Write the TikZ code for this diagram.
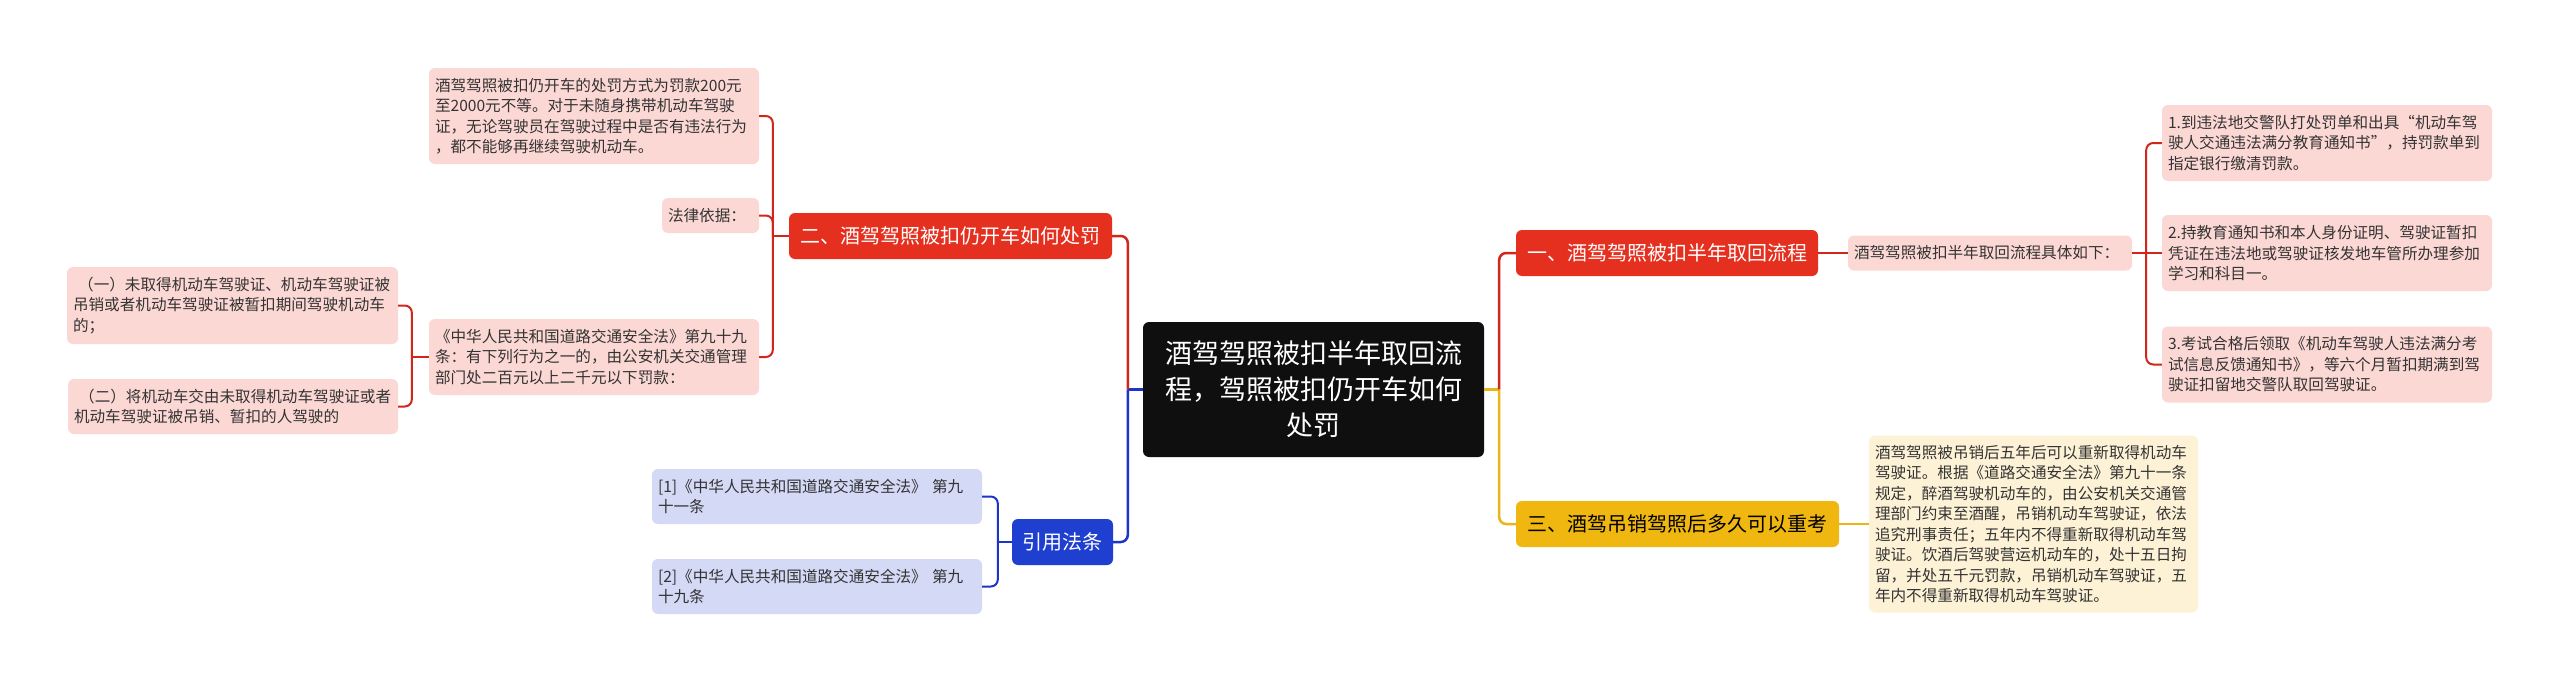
\documentclass[tikz,border=0pt]{standalone}
\usepackage{fontspec}
\setmainfont{Noto Sans CJK SC}
\usetikzlibrary{calc}
\definecolor{mred}{HTML}{E6301F}
\definecolor{pinkc}{HTML}{FCD8D5}
\definecolor{mblue}{HTML}{1F3FD0}
\definecolor{lav}{HTML}{D4D9F6}
\definecolor{myel}{HTML}{EFB70F}
\definecolor{cream}{HTML}{FDF2D5}
\definecolor{lred}{HTML}{D3261B}
\definecolor{lblue}{HTML}{1B35C8}
\definecolor{lyel}{HTML}{EAB519}
\definecolor{txt}{HTML}{333333}
\definecolor{cblack}{HTML}{0F0F0F}
\begin{document}
\begin{tikzpicture}[x=1pt,y=-1pt,
  box/.style={rounded corners=6pt, inner sep=0pt, align=left, text=txt,
    font=\fontsize{15.6}{20.5}\selectfont},
  pinkbox/.style={box, fill=pinkc},
  lavbox/.style={box, fill=lav},
  creambox/.style={box, fill=cream},
  mainbox/.style={rounded corners=6pt, inner sep=0pt, align=center, text=white,
    font=\fontsize{20}{24}\selectfont, minimum height=46pt},
  rl/.style={draw=lred, line width=2.5pt, rounded corners=7pt},
  bl/.style={draw=lblue, line width=2.5pt, rounded corners=7pt},
  yl/.style={draw=lyel, line width=2.5pt, rounded corners=7pt},
  rs/.style={draw=lred, line width=2pt, rounded corners=7pt},
  bs/.style={draw=lblue, line width=2pt, rounded corners=7pt},
  ys/.style={draw=lyel, line width=2pt, rounded corners=7pt}]
\fill[white] (0,0) rectangle (2560,683);
\useasboundingbox (0,0) rectangle (2560,683);

% center
\node[fill=cblack, rounded corners=6pt, inner sep=0pt, text=white, align=center,
  minimum width=341pt, minimum height=135pt, text width=320pt,
  font=\fontsize{27}{36}\selectfont] (c) at (1313.5,389.5)
  {酒驾驾照被扣半年取回流\\程，驾照被扣仍开车如何\\处罚};

% main branches
\node[mainbox, fill=mred, minimum width=323pt] (er) at (950.5,236) {二、酒驾驾照被扣仍开车如何处罚};
\node[mainbox, fill=mblue, minimum width=101pt] (eb) at (1062.5,542) {引用法条};
\node[mainbox, fill=mred, minimum width=302pt] (yi) at (1667,253) {一、酒驾驾照被扣半年取回流程};
\node[mainbox, fill=myel, minimum width=323pt, text=black] (san) at (1677.5,524) {三、酒驾吊销驾照后多久可以重考};

% left-upper children
\node[pinkbox, minimum width=330pt, minimum height=96pt, text width=318pt] (A1) at (594,116)
  {酒驾驾照被扣仍开车的处罚方式为罚款200元\\至2000元不等。对于未随身携带机动车驾驶\\证，无论驾驶员在驾驶过程中是否有违法行为\\，都不能够再继续驾驶机动车。};
\node[pinkbox, minimum width=97pt, minimum height=35pt, text width=85pt] (A2) at (710.5,215.5)
  {法律依据：};
\node[pinkbox, minimum width=330pt, minimum height=76pt, text width=318pt] (A3) at (594,357)
  {《中华人民共和国道路交通安全法》第九十九\\条：有下列行为之一的，由公安机关交通管理\\部门处二百元以上二千元以下罚款：};
\node[pinkbox, minimum width=331pt, minimum height=77pt, text width=319pt] (A3a) at (232.5,305.5)
  {\ （一）未取得机动车驾驶证、机动车驾驶证被\\吊销或者机动车驾驶证被暂扣期间驾驶机动车\\的；};
\node[pinkbox, minimum width=330pt, minimum height=55pt, text width=318pt] (A3b) at (233,406.5)
  {\ （二）将机动车交由未取得机动车驾驶证或者\\机动车驾驶证被吊销、暂扣的人驾驶的};

% blue children
\node[lavbox, minimum width=330pt, minimum height=55pt, text width=318pt] (B1) at (817,496.5)
  {[1]《中华人民共和国道路交通安全法》 第九\\十一条};
\node[lavbox, minimum width=330pt, minimum height=55pt, text width=318pt] (B2) at (817,586.5)
  {[2]《中华人民共和国道路交通安全法》 第九\\十九条};

% right children
\node[pinkbox, minimum width=284pt, minimum height=35pt, text width=272pt] (R0) at (1990,253)
  {酒驾驾照被扣半年取回流程具体如下：};
\node[pinkbox, minimum width=330pt, minimum height=76pt, text width=318pt] (R1) at (2327,143)
  {1.到违法地交警队打处罚单和出具“机动车驾\\驶人交通违法满分教育通知书”，持罚款单到\\指定银行缴清罚款。};
\node[pinkbox, minimum width=330pt, minimum height=76pt, text width=318pt] (R2) at (2327,253)
  {2.持教育通知书和本人身份证明、驾驶证暂扣\\凭证在违法地或驾驶证核发地车管所办理参加\\学习和科目一。};
\node[pinkbox, minimum width=330pt, minimum height=76pt, text width=318pt] (R3) at (2327,364.5)
  {3.考试合格后领取《机动车驾驶人违法满分考\\试信息反馈通知书》，等六个月暂扣期满到驾\\驶证扣留地交警队取回驾驶证。};
\node[creambox, minimum width=329pt, minimum height=177pt, text width=317pt] (Y) at (2033.5,524)
  {酒驾驾照被吊销后五年后可以重新取得机动车\\驾驶证。根据《道路交通安全法》第九十一条\\规定，醉酒驾驶机动车的，由公安机关交通管\\理部门约束至酒醒，吊销机动车驾驶证，依法\\追究刑事责任；五年内不得重新取得机动车驾\\驶证。饮酒后驾驶营运机动车的，处十五日拘\\留，并处五千元罚款，吊销机动车驾驶证，五\\年内不得重新取得机动车驾驶证。};

% connectors: center
\coordinate (tl) at ($(c.west)+(-15,0)$);
\draw[bl] (c.west) -- (tl);
\draw[rl] (tl) |- (er.east);
\draw[bl] (tl) |- (eb.east);
\coordinate (tr) at ($(c.east)+(15,0)$);
\draw[yl] (c.east) -- (tr);
\draw[rl] (tr) |- (yi.west);
\draw[yl] (tr) |- (san.west);

% er children
\coordinate (t2) at ($(er.west)+(-16,0)$);
\draw[rs] (er.west) -- (t2);
\draw[rs] (t2) |- (A1.east);
\draw[rs] (t2) |- (A2.east);
\draw[rs] (t2) |- (A3.east);
\coordinate (t3) at ($(A3.west)+(-17,0)$);
\draw[rs] (A3.west) -- (t3);
\draw[rs] (t3) |- (A3a.east);
\draw[rs] (t3) |- (A3b.east);

% eb children
\coordinate (t4) at ($(eb.west)+(-14,0)$);
\draw[bs] (eb.west) -- (t4);
\draw[bs] (t4) |- (B1.east);
\draw[bs] (t4) |- (B2.east);

% yi children
\draw[rs] (yi.east) -- (R0.west);
\coordinate (t5) at ($(R0.east)+(14,0)$);
\draw[rs] (R0.east) -- (R2.west);
\draw[rs] (t5) |- (R1.west);
\draw[rs] (t5) |- (R3.west);

% san child
\draw[ys] (san.east) -- (Y.west);
\end{tikzpicture}
\end{document}
